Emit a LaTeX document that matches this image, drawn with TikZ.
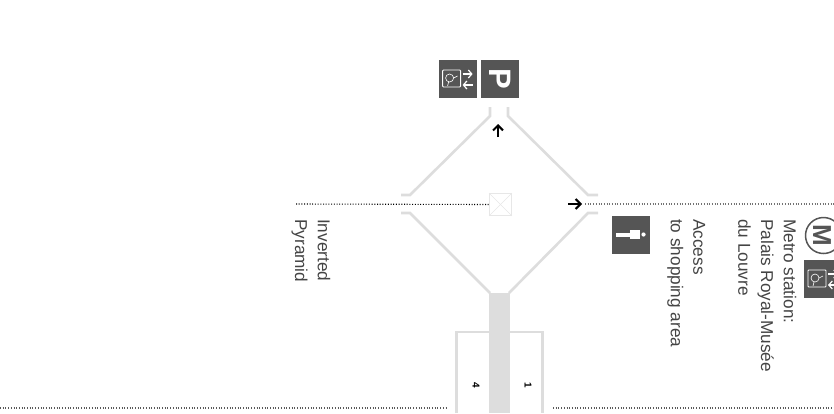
\documentclass[tikz,border=0pt]{standalone}
\usepackage{fontspec}
\setmainfont{Liberation Sans}
\usetikzlibrary{positioning,arrows.meta}
\definecolor{iconfill}{HTML}{555555}
\definecolor{wallgray}{HTML}{DDDDDD}
\definecolor{labelgray}{HTML}{444444}

\begin{document}
\begin{tikzpicture}[x=1pt,y=-1pt]
            \edef\sizeicon{38pt}
            \tikzstyle{iconbox}=[fill=iconfill,minimum size=\sizeicon,inner sep=0pt,text=white]
            \tikzstyle{wall}=[draw=wallgray,line width=2.6pt]
            \tikzstyle{walk}=[dash pattern=on 1pt off 1.7pt,line width=1.1pt,black]
            \tikzstyle{pointer}=[-{Straight Barb[length=5pt,width=10pt,line width=2pt]},line width=2pt,black]
            \tikzstyle{caption}=[rotate=-90,anchor=north west,align=left,inner sep=0pt,
            font=\fontsize{17.2}{22.7}\selectfont,text=labelgray]
            \tikzstyle{lettermark}=[rotate=-90,font=\bfseries\fontsize{31}{31}\selectfont,inner sep=0pt]
            \tikzstyle{doornum}=[rotate=-90,font=\bfseries\fontsize{10}{10}\selectfont,inner sep=0pt]
            \newcommand{\lifticon}[1]{
                \draw[white,line width=.9pt,rounded corners=.8pt] ([shift={(-15,-9)}]#1.center) rectangle ([shift={(3,8)}]#1.center);
                \draw[white,line width=.6pt] ([shift={(-8,-1)}]#1.center) circle (4pt);
                \draw[white,line width=.6pt] ([shift={(-4,-1)}]#1.center) -- ([shift={(0,-3)}]#1.center);
                \draw[white,line width=.6pt] ([shift={(-9,3)}]#1.center) -- ([shift={(-10,7)}]#1.center);
                \draw[white,line width=1.2pt,-{Straight Barb[length=3.5pt,width=8pt,line width=1.2pt]}] ([shift={(5,-5)}]#1.center) -- ([shift={(15,-5)}]#1.center);
                \draw[white,line width=1.2pt,-{Straight Barb[length=3.5pt,width=8pt,line width=1.2pt]}] ([shift={(15,6)}]#1.center) -- ([shift={(5,6)}]#1.center);
            }

            \useasboundingbox (0,0) rectangle (834,413);

            % pyramid walls
            \draw[wall] (490,107) -- (490,116) -- (410,195) -- (401,195);
            \draw[wall] (508,107) -- (508,116) -- (588,195) -- (598,195);
            \draw[wall] (401,213) -- (410,213) -- (490,293);
            \draw[wall] (598,213) -- (588,213) -- (509,293);

            % passage and room
            \draw[wall] (456.5,413) -- (456.5,332) -- (542.5,332) -- (542.5,413);
            \fill[wallgray] (489,293) rectangle (510,413);

            % centre mark
            \node (centre) [draw=wallgray!70,line width=.8pt,minimum size=22pt,inner sep=0pt] at (500.5,204.5) {};
            \draw[wallgray!70,line width=.6pt] (centre.north west) -- (centre.south east);
            \draw[wallgray!70,line width=.6pt] (centre.south west) -- (centre.north east);

            % icons
            \node (parking) [iconbox] at (500,79) {};
            \node (lifttop) [iconbox,left=4pt of parking] {};
            \node (shop) [iconbox] at (631,235) {};
            \node (liftmetro) [iconbox] at (823,279) {};
            \node (metro) [circle,draw=iconfill,line width=1.5pt,minimum size=36pt,inner sep=0pt] at (823.5,235.5) {};
            \node (metroletter) [lettermark,text=iconfill,font=\bfseries\fontsize{26}{26}\selectfont] at (822,235.5) {M};
            \node (parkingletter) [lettermark,text=white] at (parking) {P};
            \lifticon{lifttop}
            \lifticon{liftmetro}
            \fill[white] (616,232.7) rectangle (630,236.7);
            \fill[white] (630,230) rectangle (640,239);
            \fill[white] (643.5,234.5) circle (2.1pt);

            % walking routes
            \coordinate (leftend) at (296,204);
            \coordinate (rightend) at (834,204);
            \coordinate (bottomleft) at (0,408);
            \coordinate (bottomleftend) at (447,408);
            \coordinate (bottomright) at (553,408);
            \coordinate (bottomrightend) at (834,408);
            \draw[walk] (leftend) -- (centre.west);
            \draw[walk,black!55] (585,204) -- (rightend);
            \draw[walk,black!65] (bottomleft) -- (bottomleftend);
            \draw[walk,black!65] (bottomright) -- (bottomrightend);

            % arrows
            \coordinate (uptail) at (498,137);
            \coordinate (uphead) at (498,124);
            \coordinate (righttail) at (568,204);
            \coordinate (righthead) at (582,204);
            \draw[pointer] (uptail) -- (uphead);
            \draw[pointer] (righttail) -- (righthead);

            % captions
            \node (inverted) [caption] at (330.5,219) {Inverted\\Pyramid};
            \node (access) [caption] at (705.5,219) {Access\\to shopping area};
            \node (station) [caption] at (796.5,219) {Metro station:\\Palais Royal-Musée\\du Louvre};
            \node (doorone) [doornum] at (528,385) {1};
            \node (doorfour) [doornum] at (476,385) {4};
        \end{tikzpicture}
\end{document}
